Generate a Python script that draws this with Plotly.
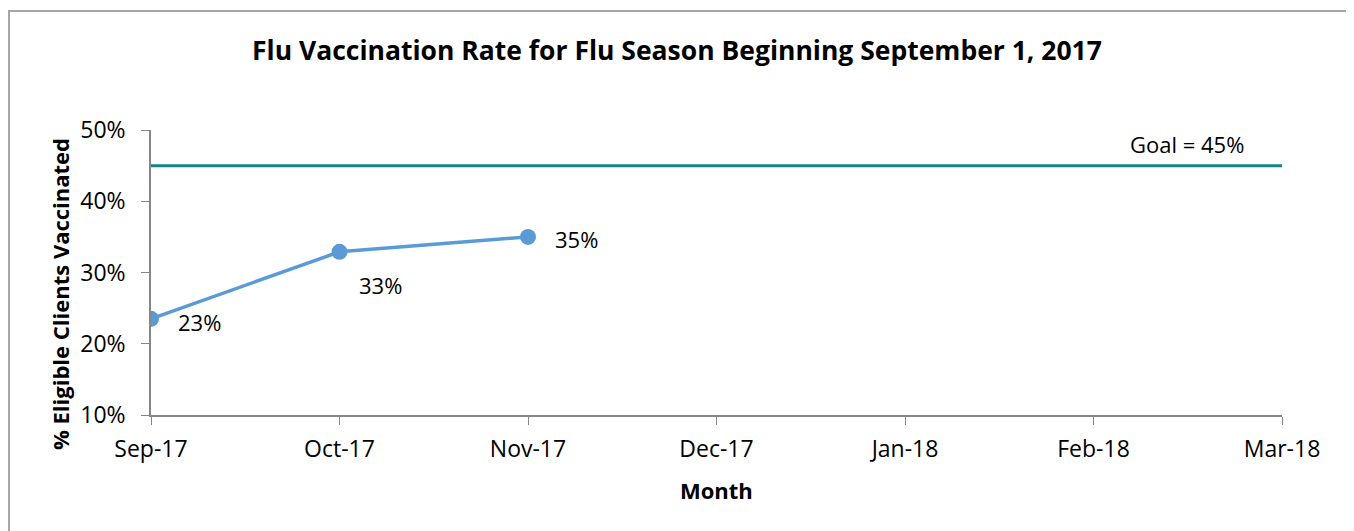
"""Flu vaccination rate chart for the season beginning September 1, 2017."""

import plotly.graph_objects as go


MONTHS = ["Sep-17", "Oct-17", "Nov-17", "Dec-17", "Jan-18", "Feb-18", "Mar-18"]
RATE_MONTHS = ["Sep-17", "Oct-17", "Nov-17"]
RATE_VALUES = [23.5, 32.9, 35.0]
RATE_LABELS = ["23%", "33%", "35%"]
GOAL_VALUE = 45

FONT = "Open Sans"
TEXT_COLOR = "#000000"
AXIS_COLOR = "#868686"

# the page body adds an 8px offset, so the figure is 8px smaller
FIG_W, FIG_H = 1346, 523
PLOT_L, PLOT_T, PLOT_W, PLOT_H = 143, 122, 1131, 285


def px_x(fig_x):
    return (fig_x - PLOT_L) / PLOT_W


def px_y(fig_y):
    return (PLOT_T + PLOT_H - fig_y) / PLOT_H


fig = go.Figure()

fig.add_trace(
    go.Scatter(
        x=MONTHS,
        y=[GOAL_VALUE] * len(MONTHS),
        mode="lines",
        line={"color": "#138585", "width": 3},
        hoverinfo="skip",
        showlegend=False,
    )
)

fig.add_trace(
    go.Scatter(
        x=RATE_MONTHS,
        y=RATE_VALUES,
        mode="lines+markers",
        line={"color": "#5b9bd5", "width": 3.5},
        marker={"color": "#5b9bd5", "size": 16},
        showlegend=False,
    )
)

# data labels, offset like the original chart
label_offsets = [(25, -3), (17, -33), (25, -2)]
for month, value, label, (dx, dy) in zip(
    RATE_MONTHS, RATE_VALUES, RATE_LABELS, label_offsets
):
    fig.add_annotation(
        x=month,
        y=value,
        text=label,
        showarrow=False,
        xanchor="left",
        yanchor="middle",
        xshift=dx,
        yshift=dy,
        font={"family": FONT, "size": 22, "color": TEXT_COLOR},
    )

fig.add_annotation(
    x=1,
    xref="paper",
    y=GOAL_VALUE,
    text="Goal = 45%",
    showarrow=False,
    xanchor="right",
    yanchor="middle",
    xshift=-36,
    yshift=22,
    font={"family": FONT, "size": 22, "color": TEXT_COLOR},
)

# axis titles placed by hand
fig.add_annotation(
    x=px_x(52),
    xref="paper",
    y=px_y(286),
    yref="paper",
    xanchor="center",
    yanchor="middle",
    text="<b>% Eligible Clients Vaccinated</b>",
    textangle=-90,
    showarrow=False,
    font={"family": FONT, "size": 22, "color": TEXT_COLOR},
)

fig.add_annotation(
    x=px_x(708),
    xref="paper",
    y=px_y(482),
    yref="paper",
    xanchor="center",
    yanchor="middle",
    text="<b>Month</b>",
    showarrow=False,
    font={"family": FONT, "size": 22, "color": TEXT_COLOR},
)

# chart area border
fig.add_shape(
    type="rect",
    xref="paper",
    yref="paper",
    x0=px_x(1),
    x1=px_x(1341),
    y0=px_y(560),
    y1=px_y(3),
    line={"color": "#a6a6a6", "width": 2},
    layer="below",
)

fig.update_layout(
    width=FIG_W,
    height=FIG_H,
    margin={
        "l": PLOT_L,
        "r": FIG_W - PLOT_L - PLOT_W,
        "t": PLOT_T,
        "b": FIG_H - PLOT_T - PLOT_H,
    },
    paper_bgcolor="white",
    plot_bgcolor="white",
    font={"family": FONT, "size": 23, "color": TEXT_COLOR},
    title={
        "text": "<b>Flu Vaccination Rate for Flu Season Beginning September 1, 2017</b>",
        "x": 669 / FIG_W,
        "xanchor": "center",
        "y": 1 - 43 / FIG_H,
        "yanchor": "middle",
        "font": {"family": FONT, "size": 26.5, "color": TEXT_COLOR},
    },
    xaxis={
        "type": "category",
        "categoryorder": "array",
        "categoryarray": MONTHS,
        "range": [0, 6],
        "showgrid": False,
        "showline": True,
        "linecolor": AXIS_COLOR,
        "linewidth": 1.5,
        "ticks": "outside",
        "ticklen": 8,
        "tickcolor": AXIS_COLOR,
        "ticklabelstandoff": 5,
        "zeroline": False,
    },
    yaxis={
        "range": [10, 50],
        "dtick": 10,
        "ticksuffix": "%",
        "showgrid": False,
        "showline": True,
        "linecolor": AXIS_COLOR,
        "linewidth": 1.5,
        "ticks": "outside",
        "ticklen": 8,
        "tickcolor": AXIS_COLOR,
        "ticklabelstandoff": 11,
        "zeroline": False,
    },
)

fig.write_html("out.html")
